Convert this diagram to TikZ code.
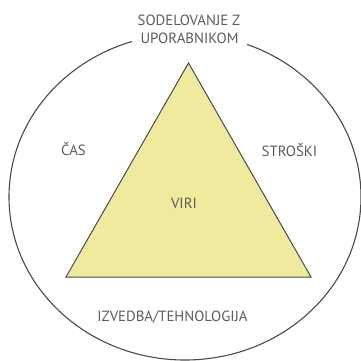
\documentclass[tikz,border=0pt]{standalone}
\usepackage{fontspec}
\setmainfont{PT Sans}
\definecolor{rimgray}{HTML}{4A4A4A}
\definecolor{labelgray}{HTML}{5C5C5C}
\definecolor{trifill}{HTML}{F0EA9E}
\begin{document}
\begin{tikzpicture}[x=1pt,y=-1pt,
  lbl/.style={text=labelgray,font=\fontsize{14.8}{17}\selectfont,inner sep=0pt,align=center},
  rim/.style={draw=rimgray,line width=1.1pt},
  tri/.style={draw=rimgray,line width=1pt,fill=trifill,line join=miter}]
  \useasboundingbox (0,0) rectangle (361,361);
  % outer ellipse
  \draw[rim] (185,197) ellipse [x radius=176, y radius=163];
  % triangle
  \coordinate (apex) at (188.5,63);
  \coordinate (bl) at (66,277);
  \coordinate (br) at (311,277);
  \draw[tri] (apex) -- (br) -- (bl) -- cycle;
  % labels
  \node[lbl] (top1) at (189,20) {SODELOVANJE Z};
  \node[lbl,fill=white,inner xsep=9pt,inner ysep=3pt] (top2) at (189.5,38) {UPORABNIKOM};
  \node[lbl] (cas) at (73.5,149) {ČAS};
  \node[lbl] (stroski) at (289.5,150) {STROŠKI};
  \node[lbl] (viri) at (184,203) {VIRI};
  \node[lbl] (izv) at (172.5,317) {IZVEDBA/TEHNOLOGIJA};
\end{tikzpicture}
\end{document}
